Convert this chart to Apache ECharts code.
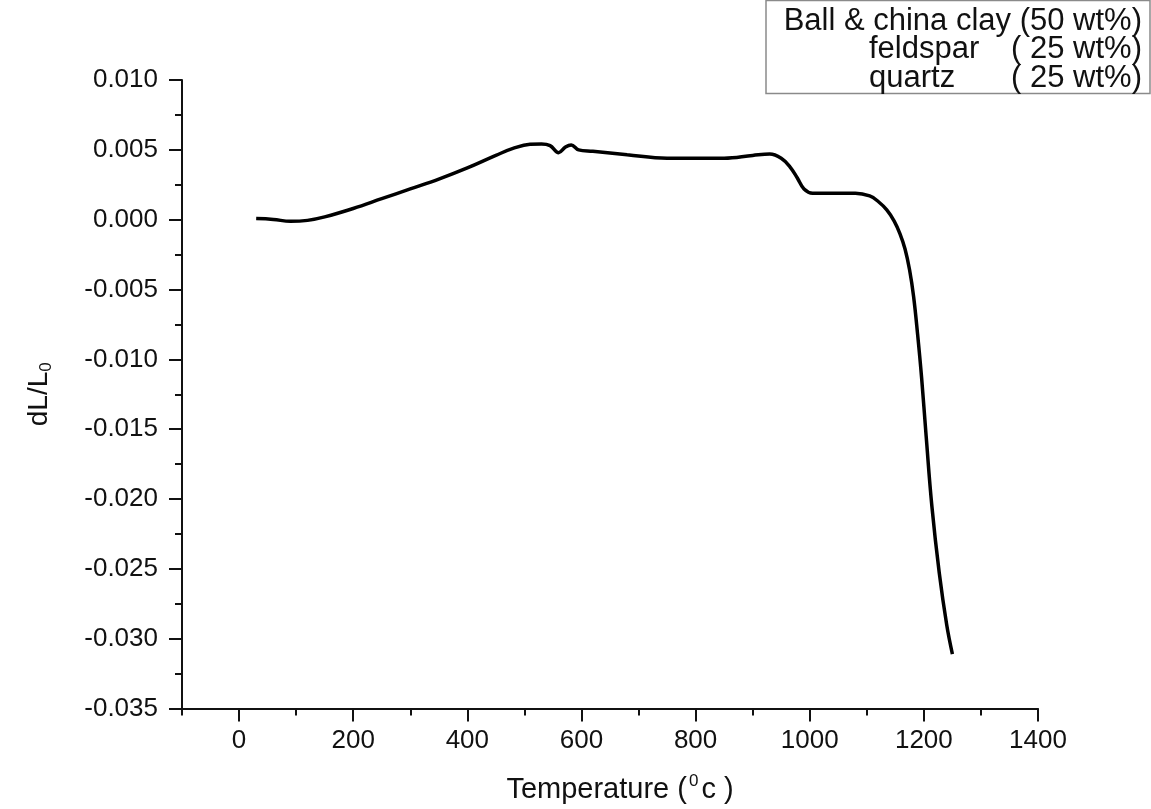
<!DOCTYPE html>
<html>
<head>
<meta charset="utf-8">
<title>dL/L0 vs temperature</title>
<script src="https://cdn.jsdelivr.net/npm/echarts@6/dist/echarts.min.js"></script>
<style>
  html, body { margin: 0; padding: 0; background: #fff; }
  #chart { width: 1151px; height: 809px; }
</style>
</head>
<body>
<div id="chart"></div>
<script>
// dilatometer curve
const temperature = [30, 60, 90, 120, 150, 200, 250, 300, 350, 400, 450, 480, 510, 530, 545,
  560, 572, 582, 595, 620, 680, 750, 850, 900, 930, 950, 965, 978, 990, 1005, 1040, 1080,
  1105, 1120, 1135, 1148, 1158, 1167, 1175, 1182, 1189, 1196, 1204, 1214, 1227, 1240, 1250];
const expansion = [0.00008, 0.00002, -0.00012, -0.00005, 0.0002, 0.0008, 0.0015, 0.0022, 0.0029,
  0.0037, 0.0046, 0.0051, 0.0054, 0.00542, 0.0053, 0.0048, 0.0052, 0.00535, 0.0050, 0.0049,
  0.00465, 0.0044, 0.0044, 0.0046, 0.0047, 0.0044, 0.0038, 0.0030, 0.0022, 0.0019, 0.0019,
  0.0019, 0.0017, 0.0013, 0.0007, -0.0001, -0.0010, -0.0021, -0.0036, -0.0055, -0.0082,
  -0.0113, -0.0155, -0.0205, -0.0253, -0.0290, -0.0311];

const xMajorTicks = [0, 200, 400, 600, 800, 1000, 1200, 1400];
const xMinorTicks = [-100, 100, 300, 500, 700, 900, 1100, 1300];
const composition = ['Ball & china clay (50 wt%)', 'feldspar', 'quartz'];
const shares = ['( 25 wt%)', '( 25 wt%)'];

const font = '"Liberation Sans", Arial, sans-serif';
const ink = '#111';
const boxFont = '31px ' + font;

const chart = echarts.init(document.getElementById('chart'));

const axisBase = {
  type: 'value',
  min: -100,
  max: 1400,
  splitLine: { show: false },
  axisLine: { onZero: false, lineStyle: { color: ink, width: 2 } }
};

chart.setOption({
  animation: false,
  backgroundColor: '#fff',
  grid: { left: 182, right: 113, top: 80, bottom: 97 },
  xAxis: [
    Object.assign({}, axisBase, {
      name: '{a|Temperature (}{s|0}{a|c )}',
      nameLocation: 'middle',
      nameGap: 64,
      nameTextStyle: {
        padding: [0, 0, 0, 20],
        rich: {
          a: { fontFamily: font, fontSize: 29, color: ink, lineHeight: 34 },
          s: { fontFamily: font, fontSize: 17, color: ink, lineHeight: 17, verticalAlign: 'top', padding: [0, 3, 0, 2] }
        }
      },
      axisTick: { customValues: xMajorTicks, length: 13, lineStyle: { color: ink, width: 2 } },
      axisLabel: {
        customValues: xMajorTicks,
        margin: 19,
        fontFamily: font,
        fontSize: 26,
        color: ink,
        formatter: v => String(v)
      }
    }),
    Object.assign({}, axisBase, {
      position: 'bottom',
      axisLine: { show: false, onZero: false },
      axisLabel: { show: false },
      axisTick: { customValues: xMinorTicks, length: 7, lineStyle: { color: ink, width: 2 } }
    })
  ],
  yAxis: {
    type: 'value',
    min: -0.035,
    max: 0.010,
    interval: 0.005,
    name: '{a|dL/L}{s|0}',
    nameLocation: 'middle',
    nameGap: 127,
    nameTextStyle: {
      rich: {
        a: { fontFamily: font, fontSize: 28, color: ink, lineHeight: 32 },
        s: { fontFamily: font, fontSize: 17, color: ink, lineHeight: 15, verticalAlign: 'bottom' }
      }
    },
    splitLine: { show: false },
    axisLine: { onZero: false, lineStyle: { color: ink, width: 2 } },
    axisTick: { length: 13, lineStyle: { color: ink, width: 2 } },
    minorTick: { show: true, splitNumber: 2, length: 7, lineStyle: { color: ink, width: 2 } },
    axisLabel: {
      margin: 24,
      fontFamily: font,
      fontSize: 26,
      color: ink,
      formatter: v => v.toFixed(3)
    }
  },
  graphic: [
    {
      type: 'rect',
      shape: { x: 766, y: 0.5, width: 384, height: 93 },
      style: { fill: '#fff', stroke: '#8a8a8a', lineWidth: 1.5 }
    },
    {
      type: 'text', x: 1142, y: 21,
      style: { text: composition[0], align: 'right', verticalAlign: 'middle', font: boxFont, fill: ink }
    },
    {
      type: 'text', x: 869, y: 49.5,
      style: { text: composition[1], align: 'left', verticalAlign: 'middle', font: boxFont, fill: ink }
    },
    {
      type: 'text', x: 1142, y: 49.5,
      style: { text: shares[0], align: 'right', verticalAlign: 'middle', font: boxFont, fill: ink }
    },
    {
      type: 'text', x: 869, y: 78,
      style: { text: composition[2], align: 'left', verticalAlign: 'middle', font: boxFont, fill: ink }
    },
    {
      type: 'text', x: 1142, y: 78,
      style: { text: shares[1], align: 'right', verticalAlign: 'middle', font: boxFont, fill: ink }
    }
  ],
  series: [{
    type: 'line',
    xAxisIndex: 0,
    data: temperature.map((t, i) => [t, expansion[i]]),
    showSymbol: false,
    smooth: 0.4,
    lineStyle: { color: '#000', width: 3.5 }
  }]
});
</script>
</body>
</html>
